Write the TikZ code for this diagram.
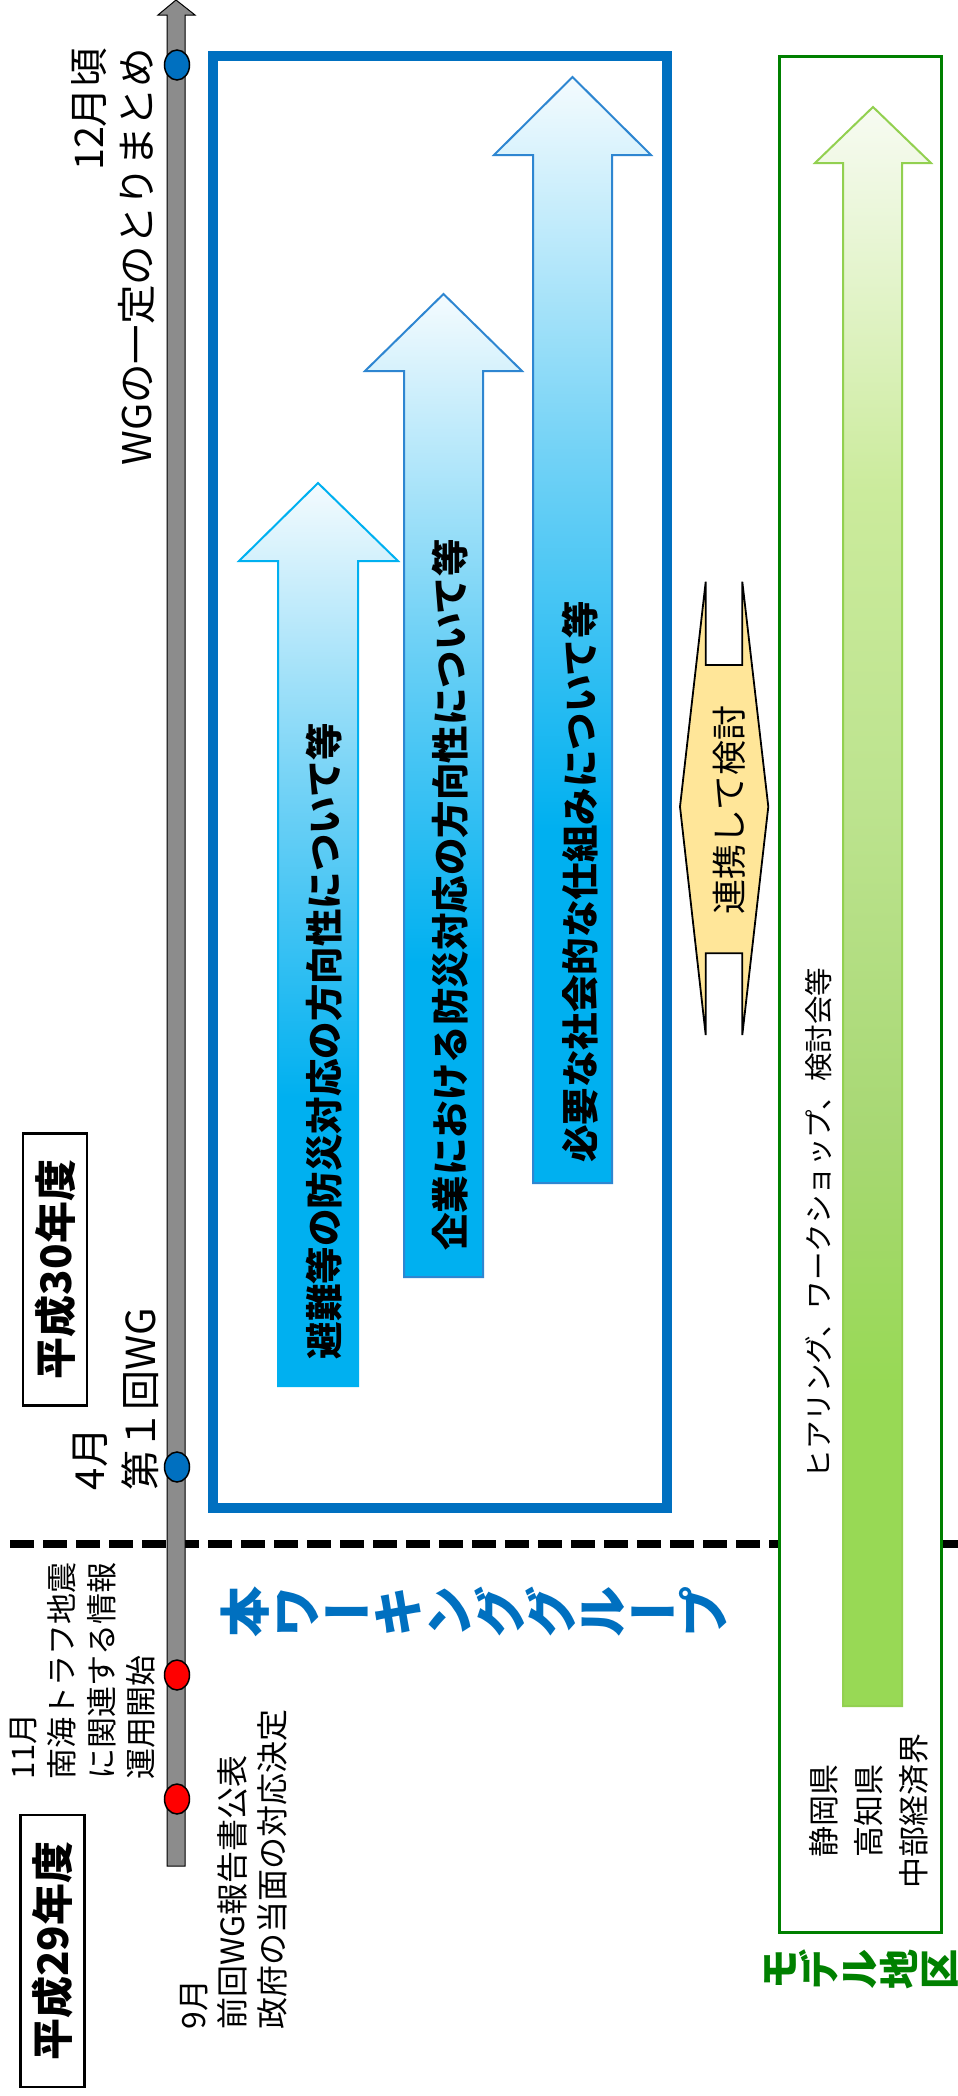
\documentclass[tikz,border=0pt]{standalone}
\usepackage{fontspec}
\usepackage{graphicx}
\setmainfont{Noto Sans CJK JP}
\usetikzlibrary{shapes.geometric}
\definecolor{wgblue}{HTML}{0070C0}
\definecolor{arrowcyan}{HTML}{00B0F0}
\definecolor{arrowedge}{HTML}{2E86D1}
\definecolor{mgreen}{HTML}{008000}
\definecolor{lgreen}{HTML}{92D050}
\definecolor{talk}{HTML}{FFE699}
\definecolor{bargray}{HTML}{8C8C8C}
\definecolor{gA}{HTML}{98D955}
\definecolor{gB}{HTML}{A8D874}
\definecolor{gC}{HTML}{BCE38E}
\definecolor{gD}{HTML}{CBEB9C}
\definecolor{gE}{HTML}{F7FBF2}
\definecolor{cB}{HTML}{72D2F6}
\definecolor{cC}{HTML}{F4FBFE}
\pgfdeclareverticalshading{blueshade}{100bp}{color(0bp)=(arrowcyan); color(25bp)=(arrowcyan); color(41bp)=(arrowcyan); color(58bp)=(cB); color(75bp)=(cC); color(100bp)=(cC)}
\pgfdeclareverticalshading{greenshade}{100bp}{color(0bp)=(gA); color(25bp)=(gA); color(35bp)=(gA); color(43bp)=(gB); color(53bp)=(gC); color(63bp)=(gD); color(75bp)=(gE); color(100bp)=(gE)}
\newcommand\vch[1]{\rotatebox{90}{\raisebox{0pt}[0.88em][0.12em]{\makebox[1em]{#1}}}}
\newcommand\vbar{\raisebox{0.12em}{\makebox[1em]{ー}}}
\begin{document}
\begin{tikzpicture}[x=1pt,y=-1pt,
  every node/.style={inner sep=0pt, outer sep=0pt},
  arrowtxt/.style={rotate=90, font=\fontsize{37.5}{40}\selectfont\bfseries},
  dot/.style={ellipse, draw=black, line width=1.5pt, minimum width=25pt, minimum height=30pt},
  yearbox/.style={draw=black, line width=2.5pt, rotate=90, minimum width=272pt, minimum height=64pt, font=\fontsize{42}{44}\selectfont\bfseries},
  bluearrow/.style={shade, shading=blueshade, line width=2pt},
  rtext/.style={rotate=90}]
\useasboundingbox (0,0) rectangle (958,2096);
\fill[white] (0,0) rectangle (958,2096);

% dashed separator
\coordinate (dashL) at (10,1544);
\coordinate (dashR) at (958,1544);
\draw[black, line width=8.5pt, dash pattern=on 24pt off 9pt] (dashL) -- (dashR);

% working group frame
\draw[wgblue, line width=10pt] (213,56) rectangle (667,1508);

% model region frame
\draw[mgreen, line width=3pt, fill=white] (779,56) rectangle (941,1932);

% timeline bar
\draw[black, line width=1pt, fill=bargray] (167,1866) -- (167,15) -- (158,15) -- (176,0) -- (195,15) -- (185,15) -- (185,1866) -- cycle;

% blue arrows
\path[bluearrow, draw=arrowcyan] (278,1386) -- (278,561) -- (239,561) -- (318,483) -- (398,561) -- (358,561) -- (358,1386) -- cycle;
\path[bluearrow, draw=arrowedge] (404,1277) -- (404,371) -- (365,371) -- (443.5,294) -- (522,371) -- (483,371) -- (483,1277) -- cycle;
\path[bluearrow, draw=arrowedge] (533,1183) -- (533,155) -- (494,155) -- (572.5,77) -- (651,155) -- (612,155) -- (612,1183) -- cycle;

\node[arrowtxt] (t1) at (324,1041) {避難等の防災対応の方向性について等};
\node[arrowtxt] (t2) at (450,895) {企業における防災対応の方向性について等};
\node[arrowtxt] (t3) at (580,882) {必要な社会的な仕組みについて等};

% green arrow
\path[shade, shading=greenshade, draw=lgreen, line width=2pt] (843,1706) -- (843,163) -- (815,163) -- (873,107) -- (931,163) -- (902,163) -- (902,1706) -- cycle;
\node[rtext, font=\fontsize{28.5}{30}\selectfont] (hear) at (819,1223) {ヒアリング、ワークショップ、検討会等};

% cooperation shape
\draw[black, line width=1.8pt, fill=talk] (705.7,581.7) -- (705.7,665) -- (742.3,665) -- (742.3,581.7) -- (768.3,806.7) -- (742.3,1035) -- (742.3,953.3) -- (705.7,953.3) -- (705.7,1035) -- (680,806.7) -- cycle;
\node[rtext, font=\fontsize{35}{37}\selectfont] (coop) at (729,810) {連携して検討};

% dots on timeline
\node[dot, fill=wgblue] (d12) at (177,65) {};
\node[dot, fill=wgblue] (d4) at (177,1467) {};
\node[dot, fill=red] (d11) at (177,1675) {};
\node[dot, fill=red] (d9) at (177,1799) {};

% timeline labels
\node[rtext, anchor=north east, align=right, font=\fontsize{39.5}{48}\selectfont] (l12) at (72,48) {12月頃\\WGの一定のとりまとめ};
\node[rtext, anchor=north west, align=left, font=\fontsize{40}{51}\selectfont] (l4) at (73,1490) {4月\\第１回WG};
\node[rtext, anchor=north west, align=left, font=\fontsize{31}{39.5}\selectfont] (l11) at (10,1779) {11月\\南海トラフ地震\\に関連する情報\\運用開始};
\node[rtext, anchor=north west, align=left, font=\fontsize{32}{39.5}\selectfont] (l9) at (180,2029) {9月\\前回WG報告書公表\\政府の当面の対応決定};

% fiscal year boxes
\node[yearbox] (h30) at (55,1269.5) {平成30年度};
\node[yearbox] (h29) at (52.5,1951) {平成29年度};

% group labels
\node[text=wgblue, font=\fontsize{51}{53}\selectfont\bfseries] (wg) at (474.5,1612) {\vch{本}\vch{ワ}\vbar\vch{キ}\vch{ン}\vch{グ}\vch{グ}\vch{ル}\vbar\vch{プ}};
\node[anchor=west, text=mgreen, font=\fontsize{40}{42}\selectfont\bfseries] (model) at (759,1969) {\vch{モ}\vch{デ}\vch{ル}\vch{地}\vch{区}};

% model regions
\node[rtext, align=center, font=\fontsize{31}{45}\selectfont] (regions) at (869,1811) {静岡県\\高知県\\中部経済界};
\end{tikzpicture}
\end{document}
